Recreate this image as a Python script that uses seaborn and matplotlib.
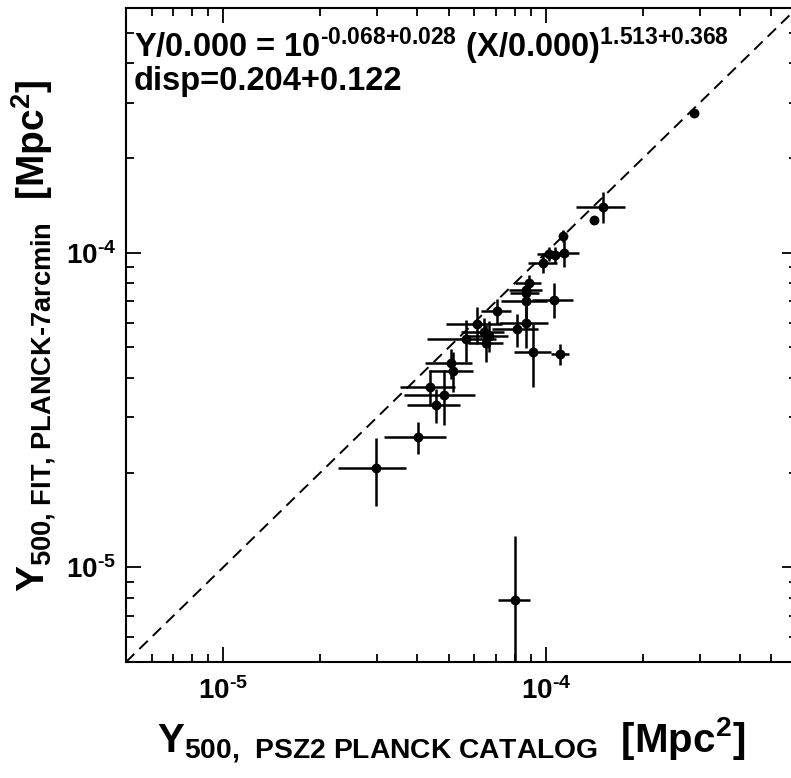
import math
import matplotlib
matplotlib.use('Agg')
import matplotlib.pyplot as plt
import matplotlib.ticker as ticker
import pandas as pd
import seaborn as sns
from matplotlib import font_manager

# Y500 from the PSZ2 Planck catalogue and from the 7 arcmin fit, in units of 1e-4 Mpc^2
y_psz2 = [2.87, 1.50, 1.41, 1.13, 1.14, 1.07, 1.02, 0.98, 0.885, 0.87, 0.865,
          0.866, 1.06, 0.866, 0.813, 0.914, 1.11, 0.705, 0.612, 0.644, 0.665,
          0.654, 0.564, 0.507, 0.515, 0.437, 0.483, 0.455, 0.403, 0.298, 0.80]
y_psz2_err = [0.03, 0.26, 0.04, 0.03, 0.13, 0.10, 0.08, 0.10, 0.08, 0.10, 0.09,
              0.14, 0.155, 0.15, 0.13, 0.12, 0.07, 0.075, 0.12, 0.10, 0.10,
              0.08, 0.135, 0.085, 0.08, 0.085, 0.12, 0.085, 0.087, 0.071, 0.09]
y_fit = [2.79, 1.40, 1.27, 1.13, 1.00, 0.985, 0.99, 0.93, 0.80, 0.76, 0.745,
         0.70, 0.71, 0.597, 0.571, 0.483, 0.476, 0.655, 0.593, 0.561, 0.545,
         0.518, 0.531, 0.446, 0.422, 0.375, 0.353, 0.328, 0.260, 0.207, 0.079]
y_fit_err = [0.03, 0.16, 0.02, 0.05, 0.10, 0.06, 0.05, 0.07, 0.05, 0.04, 0.04,
             0.09, 0.09, 0.10, 0.07, 0.11, 0.035, 0.06, 0.08, 0.06, 0.06,
             0.07, 0.08, 0.05, 0.06, 0.05, 0.07, 0.04, 0.03, 0.05, 0.047]

fit_text = r'Y/0.000 = 10$^{\text{-0.068+0.028}}$ (X/0.000)$^{\text{1.513+0.368}}$'
disp_text = 'disp=0.204+0.122'
x_title = r'Y$_{\text{500,  PSZ2 PLANCK CATALOG}}$  [Mpc$^{\text{2}}$]'
y_title = r'Y$_{\text{500, FIT, PLANCK-7arcmin}}$  [Mpc$^{\text{2}}$]'

unit = 1e-4
df = pd.DataFrame({
    'psz2': [v * unit for v in y_psz2],
    'psz2_err': [v * unit for v in y_psz2_err],
    'fit': [v * unit for v in y_fit],
    'fit_err': [v * unit for v in y_fit_err],
})

sns.set_theme(style='ticks')
names = {f.name for f in font_manager.fontManager.ttflist}
FONT = 'Liberation Sans Narrow' if 'Liberation Sans Narrow' in names else 'Liberation Sans'
plt.rcParams['font.family'] = [FONT, 'DejaVu Sans']
plt.rcParams['font.weight'] = 'bold'
plt.rcParams['text.color'] = 'black'
plt.rcParams['mathtext.fontset'] = 'custom'
plt.rcParams['mathtext.rm'] = FONT + ':bold'
plt.rcParams['mathtext.bf'] = FONT + ':bold'
plt.rcParams['mathtext.it'] = FONT + ':bold'
plt.rcParams['mathtext.default'] = 'bf'

W, H = 791, 778
fig = plt.figure(figsize=(W / 100, H / 100), dpi=100)
ax = fig.add_axes([126 / W, 1 - 662 / H, 671 / W, 654 / H])

ax.errorbar(df['psz2'], df['fit'], xerr=df['psz2_err'], yerr=df['fit_err'],
            fmt='none', ecolor='black', elinewidth=1.8, capsize=0, zorder=2)
sns.scatterplot(data=df, x='psz2', y='fit', color='black', s=50, linewidth=0,
                ax=ax, zorder=3, legend=False)

# one-to-one relation
ax.axline((1e-5, 1e-5), (1e-4, 1e-4), color='black', lw=1.4, dashes=(6, 3.6), zorder=1)

ax.set_xscale('log')
ax.set_yscale('log')
ax.set_xlim(5e-6, 6e-4)
ax.set_ylim(5e-6, 6e-4)


def decade(v, pos):
    e = round(math.log10(v))
    sign = '-' if e < 0 else ''
    return r'10$^{\text{%s%d}}$' % (sign, abs(e))


for axis in (ax.xaxis, ax.yaxis):
    axis.set_major_locator(ticker.LogLocator(base=10))
    axis.set_minor_locator(ticker.LogLocator(base=10, subs=range(2, 10)))
    axis.set_major_formatter(ticker.FuncFormatter(decade))
    axis.set_minor_formatter(ticker.NullFormatter())

ax.tick_params(which='both', direction='in', top=True, right=True, width=1.3,
               color='black', labelcolor='black')
ax.tick_params(which='major', length=11, labelsize=20)
ax.tick_params(which='minor', length=6)
ax.tick_params(axis='x', pad=11)
ax.tick_params(axis='y', pad=7)
for s in ax.spines.values():
    s.set_linewidth(1.5)
    s.set_color('black')
ax.set_xlabel('')
ax.set_ylabel('')

ax.text(0.012, 0.925, fit_text, transform=ax.transAxes, fontsize=23.5, fontweight='bold')
ax.text(0.012, 0.875, disp_text, transform=ax.transAxes, fontsize=23.5, fontweight='bold')

fig.text(451 / W, 1 - 752 / H, x_title, ha='center', va='baseline', fontsize=29)
fig.text(34 / W, 1 - 336 / H, y_title, ha='center', va='center', rotation=90, fontsize=28)

fig.savefig('out.png', dpi=100)
